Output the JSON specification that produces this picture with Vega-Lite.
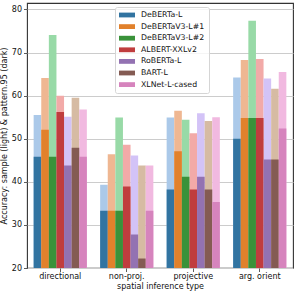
{
  "$schema": "https://vega.github.io/schema/vega-lite/v6.json",
  "width": 266,
  "height": 265,
  "autosize": {"type": "none"},
  "padding": {"left": 27, "top": 3, "right": 12, "bottom": 26},
  "config": {
    "font": "DejaVu Sans",
    "view": {"stroke": "#333333", "strokeWidth": 1.1},
    "axis": {
      "labelFont": "DejaVu Sans",
      "titleFont": "DejaVu Sans",
      "labelFontSize": 8,
      "titleFontSize": 8,
      "labelColor": "#111111",
      "titleColor": "#111111",
      "titleFontWeight": "normal",
      "domain": false,
      "tickColor": "#333333",
      "tickSize": 3.5,
      "tickWidth": 0.8
    }
  },
  "data": {
    "values": [
      {"type": "directional", "model": "DeBERTa-L", "sample": 55.5, "pattern": 45.8},
      {"type": "directional", "model": "DeBERTaV3-L#1", "sample": 64.1, "pattern": 52.1},
      {"type": "directional", "model": "DeBERTaV3-L#2", "sample": 74.1, "pattern": 45.8},
      {"type": "directional", "model": "ALBERT-XXLv2", "sample": 60.0, "pattern": 56.2},
      {"type": "directional", "model": "RoBERTa-L", "sample": 55.1, "pattern": 43.8},
      {"type": "directional", "model": "BART-L", "sample": 59.5, "pattern": 47.9},
      {"type": "directional", "model": "XLNet-L-cased", "sample": 56.8, "pattern": 45.8},
      {"type": "non-proj.", "model": "DeBERTa-L", "sample": 39.3, "pattern": 33.3},
      {"type": "non-proj.", "model": "DeBERTaV3-L#1", "sample": 46.4, "pattern": 33.3},
      {"type": "non-proj.", "model": "DeBERTaV3-L#2", "sample": 54.9, "pattern": 33.3},
      {"type": "non-proj.", "model": "ALBERT-XXLv2", "sample": 48.6, "pattern": 38.9},
      {"type": "non-proj.", "model": "RoBERTa-L", "sample": 46.1, "pattern": 27.8},
      {"type": "non-proj.", "model": "BART-L", "sample": 43.8, "pattern": 22.2},
      {"type": "non-proj.", "model": "XLNet-L-cased", "sample": 43.8, "pattern": 33.3},
      {"type": "projective", "model": "DeBERTa-L", "sample": 54.9, "pattern": 38.2},
      {"type": "projective", "model": "DeBERTaV3-L#1", "sample": 56.5, "pattern": 47.1},
      {"type": "projective", "model": "DeBERTaV3-L#2", "sample": 54.4, "pattern": 41.2},
      {"type": "projective", "model": "ALBERT-XXLv2", "sample": 51.3, "pattern": 38.2},
      {"type": "projective", "model": "RoBERTa-L", "sample": 55.9, "pattern": 41.2},
      {"type": "projective", "model": "BART-L", "sample": 54.1, "pattern": 38.2},
      {"type": "projective", "model": "XLNet-L-cased", "sample": 55.0, "pattern": 35.3},
      {"type": "arg. orient", "model": "DeBERTa-L", "sample": 64.2, "pattern": 50.0},
      {"type": "arg. orient", "model": "DeBERTaV3-L#1", "sample": 68.3, "pattern": 54.8},
      {"type": "arg. orient", "model": "DeBERTaV3-L#2", "sample": 77.4, "pattern": 54.8},
      {"type": "arg. orient", "model": "ALBERT-XXLv2", "sample": 68.5, "pattern": 54.8},
      {"type": "arg. orient", "model": "RoBERTa-L", "sample": 64.0, "pattern": 45.2},
      {"type": "arg. orient", "model": "BART-L", "sample": 61.6, "pattern": 45.2},
      {"type": "arg. orient", "model": "XLNet-L-cased", "sample": 65.5, "pattern": 52.4}
    ]
  },
  "encoding": {
    "x": {
      "field": "type",
      "type": "nominal",
      "sort": ["directional", "non-proj.", "projective", "arg. orient"],
      "scale": {"paddingInner": 0.2, "paddingOuter": 0.1},
      "title": "spatial inference type",
      "axis": {"labelAngle": 0, "labelPadding": 1, "titlePadding": 2, "grid": false}
    },
    "xOffset": {
      "field": "model",
      "type": "nominal",
      "sort": ["DeBERTa-L", "DeBERTaV3-L#1", "DeBERTaV3-L#2", "ALBERT-XXLv2", "RoBERTa-L", "BART-L", "XLNet-L-cased"],
      "scale": {"paddingInner": 0, "paddingOuter": 0}
    }
  },
  "layer": [
    {
      "mark": {"type": "bar", "clip": true},
      "encoding": {
        "y": {
          "field": "sample",
          "type": "quantitative",
          "scale": {"domain": [20, 81.5], "nice": false, "zero": false},
          "title": "Accuracy: sample (light) & pattern.95 (dark)",
          "axis": {"values": [20, 30, 40, 50, 60, 70, 80], "grid": true, "gridColor": "#cccccc", "gridWidth": 1, "labelPadding": 2, "titlePadding": 3}
        },
        "color": {
          "field": "model",
          "type": "nominal",
          "scale": {
            "domain": ["DeBERTa-L", "DeBERTaV3-L#1", "DeBERTaV3-L#2", "ALBERT-XXLv2", "RoBERTa-L", "BART-L", "XLNet-L-cased"],
            "range": ["#abc9e9", "#efb792", "#98daa7", "#f2aaa8", "#d3c3f7", "#d6bba3", "#f1b9e0"]
          },
          "legend": null
        }
      }
    },
    {
      "mark": {"type": "bar", "clip": true},
      "encoding": {
        "y": {"field": "pattern", "type": "quantitative"},
        "color": {
          "field": "model",
          "type": "nominal",
          "scale": {
            "domain": ["DeBERTa-L", "DeBERTaV3-L#1", "DeBERTaV3-L#2", "ALBERT-XXLv2", "RoBERTa-L", "BART-L", "XLNet-L-cased"],
            "range": ["#3274a1", "#e1812c", "#3a923a", "#c03d3e", "#9372b2", "#845b53", "#d684bd"]
          },
          "legend": {
            "orient": "none",
            "legendX": 88,
            "legendY": 4,
            "title": null,
            "fillColor": "rgba(255,255,255,0.8)",
            "strokeColor": "#d5d5d5",
            "cornerRadius": 2,
            "padding": 4,
            "rowPadding": 3.6,
            "symbolType": "M-1,-0.6H3V0.6H-1Z",
            "symbolSize": 64,
            "symbolStrokeWidth": 0,
            "symbolOpacity": 1,
            "labelFont": "DejaVu Sans",
            "labelFontSize": 7.8,
            "labelColor": "#111111",
            "labelOffset": 14
          }
        }
      }
    }
  ],
  "resolve": {"scale": {"color": "independent"}}
}
